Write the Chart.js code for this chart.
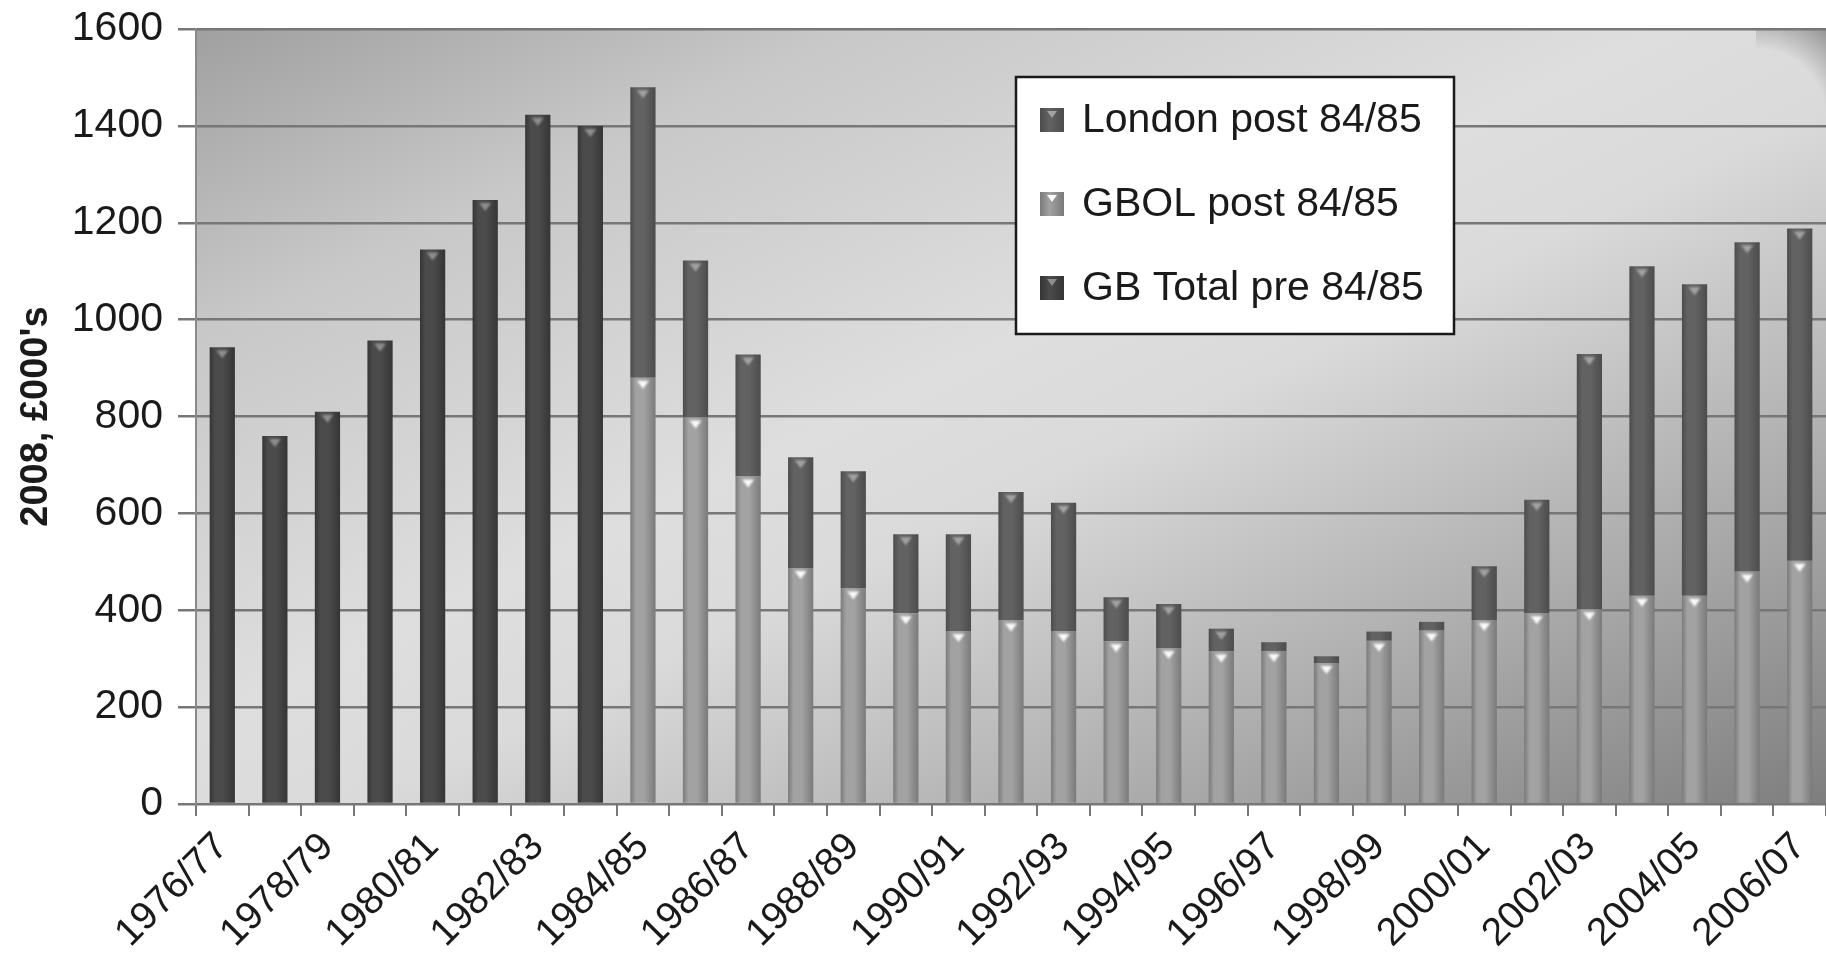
<!DOCTYPE html>
<html>
<head>
<meta charset="utf-8">
<script src="https://cdn.jsdelivr.net/npm/chart.js@4.4.1/dist/chart.umd.min.js"></script>
<style>
  html, body { margin: 0; padding: 0; background: #fff; }
  canvas { display: block; }
</style>
</head>
<body>
<canvas id="chart" width="1826" height="960"></canvas>
<script>
// Financial years on the category axis
const years = [
  '1976/77', '1977/78', '1978/79', '1979/80', '1980/81', '1981/82', '1982/83', '1983/84',
  '1984/85', '1985/86', '1986/87', '1987/88', '1988/89', '1989/90', '1990/91', '1991/92',
  '1992/93', '1993/94', '1994/95', '1995/96', '1996/97', '1997/98', '1998/99', '1999/00',
  '2000/01', '2001/02', '2002/03', '2003/04', '2004/05', '2005/06', '2006/07'
];

// Spending, 2008 prices, £000's
const gbTotalPre = [943, 760, 810, 957, 1145, 1247, 1423, 1400,
  null, null, null, null, null, null, null, null, null, null, null, null, null, null, null,
  null, null, null, null, null, null, null, null];
const gbolPost = [null, null, null, null, null, null, null, null,
  880, 798, 676, 487, 445, 394, 357, 379, 357, 336, 322, 315, 316, 291, 337,
  358, 380, 394, 402, 430, 430, 480, 502];
const londonPost = [null, null, null, null, null, null, null, null,
  600, 324, 252, 229, 242, 163, 200, 265, 265, 91, 91, 47, 18, 14, 19,
  18, 111, 234, 527, 680, 643, 680, 686];

// Value axis ticks
const yTicks = [0, 200, 400, 600, 800, 1000, 1200, 1400, 1600];

const seriesNames = ['GB Total pre 84/85', 'GBOL post 84/85', 'London post 84/85'];

const BAR_FRACTION = 0.48;
const FONT = "'Liberation Sans', Arial, Helvetica, sans-serif";

// Cylinder-like horizontal shading across each bar
function barShade(edge, mid) {
  return (ctx) => {
    const chart = ctx.chart;
    const xs = chart.scales && chart.scales.x;
    if (!chart.chartArea || !xs || ctx.type !== 'data') return mid;
    const cx = xs.getPixelForValue(ctx.dataIndex);
    const half = xs.width / years.length * BAR_FRACTION / 2;
    const g = chart.ctx.createLinearGradient(cx - half, 0, cx + half, 0);
    g.addColorStop(0, edge);
    g.addColorStop(0.22, mid);
    g.addColorStop(0.55, mid);
    g.addColorStop(1, edge);
    return g;
  };
}

const styles = [
  { edge: '#353535', mid: '#4b4b4b', mark: 'rgba(150,150,150,0.9)' },
  { edge: '#7a7a7a', mid: '#a2a2a2', mark: 'rgba(255,255,255,0.95)' },
  { edge: '#4c4c4c', mid: '#626262', mark: 'rgba(170,170,170,0.9)' }
];

// Shaded plot background with a soft darkened top-right corner
const plotBackground = {
  id: 'plotBackground',
  beforeDraw(chart) {
    const { ctx, chartArea: a } = chart;
    const w = a.right - a.left, h = a.bottom - a.top;
    ctx.save();
    ctx.translate(a.left, a.top);
    ctx.scale(w, h);
    const g = ctx.createLinearGradient(0, 0, 1, 1);
    g.addColorStop(0, '#a0a0a0');
    g.addColorStop(0.2, '#c8c8c8');
    g.addColorStop(0.45, '#dedede');
    g.addColorStop(0.55, '#dadada');
    g.addColorStop(0.8, '#a8a8a8');
    g.addColorStop(1, '#7e7e7e');
    ctx.fillStyle = g;
    ctx.fillRect(0, 0, 1, 1);
    ctx.restore();

    // rounded-corner shadow in the top-right corner
    const rw = 70, rh = 90;
    const cx = a.right - rw, cy = a.top + rh;
    ctx.save();
    const r = ctx.createRadialGradient(cx, cy, rw, cx, cy, Math.hypot(rw, rh));
    r.addColorStop(0, 'rgba(110,110,110,0)');
    r.addColorStop(1, 'rgba(110,110,110,0.65)');
    ctx.fillStyle = r;
    ctx.fillRect(cx, a.top, rw, rh);
    ctx.restore();
  }
};

// Small highlight notch at the top of each bar segment
const segmentMarks = {
  id: 'segmentMarks',
  afterDatasetsDraw(chart) {
    const ctx = chart.ctx;
    ctx.save();
    ctx.filter = 'blur(0.8px)';
    chart.data.datasets.forEach((d, di) => {
      const meta = chart.getDatasetMeta(di);
      meta.data.forEach((bar, i) => {
        if (d.data[i] == null) return;
        const top = Math.min(bar.y, bar.base);
        const segH = Math.abs(bar.base - bar.y);
        if (segH < 14) return;
        ctx.fillStyle = styles[di].mark;
        ctx.beginPath();
        ctx.moveTo(bar.x - 6, top + 3);
        ctx.lineTo(bar.x + 6, top + 3);
        ctx.lineTo(bar.x, top + 11);
        ctx.closePath();
        ctx.fill();
      });
    });
    ctx.restore();
  }
};

// Boxed legend inside the plot, last series listed first
const boxLegend = {
  id: 'boxLegend',
  afterDraw(chart, args, o) {
    const ctx = chart.ctx;
    ctx.save();
    ctx.fillStyle = '#ffffff';
    ctx.fillRect(o.x, o.y, o.w, o.h);
    ctx.lineWidth = 2.5;
    ctx.strokeStyle = '#1a1a1a';
    ctx.strokeRect(o.x, o.y, o.w, o.h);
    ctx.font = o.font;
    ctx.textBaseline = 'middle';
    ctx.textAlign = 'left';
    const order = chart.data.datasets.map((d, i) => i).reverse();
    order.forEach((di, row) => {
      const d = chart.data.datasets[di];
      const cy = o.y + o.firstRow + row * o.rowGap;
      const sx = o.x + o.swatchX, sy = cy - o.swatch / 2;
      const g = ctx.createLinearGradient(sx, 0, sx + o.swatch, 0);
      g.addColorStop(0, styles[di].edge);
      g.addColorStop(0.4, styles[di].mid);
      g.addColorStop(1, styles[di].edge);
      ctx.fillStyle = g;
      ctx.fillRect(sx, sy, o.swatch, o.swatch);
      ctx.fillStyle = styles[di].mark;
      ctx.beginPath();
      ctx.moveTo(sx + o.swatch / 2 - 5, sy + 3);
      ctx.lineTo(sx + o.swatch / 2 + 5, sy + 3);
      ctx.lineTo(sx + o.swatch / 2, sy + 10);
      ctx.closePath();
      ctx.fill();
      ctx.fillStyle = '#1a1a1a';
      ctx.fillText(d.label, o.x + o.textX, cy + 1);
    });
    ctx.restore();
  }
};

new Chart(document.getElementById('chart'), {
  type: 'bar',
  data: {
    labels: years,
    datasets: [
      { label: seriesNames[0], data: gbTotalPre, backgroundColor: barShade(styles[0].edge, styles[0].mid) },
      { label: seriesNames[1], data: gbolPost, backgroundColor: barShade(styles[1].edge, styles[1].mid) },
      { label: seriesNames[2], data: londonPost, backgroundColor: barShade(styles[2].edge, styles[2].mid) }
    ]
  },
  options: {
    responsive: false,
    animation: false,
    devicePixelRatio: 1,
    layout: { padding: { top: 29, right: 0, bottom: 0, left: 0 } },
    datasets: {
      bar: { categoryPercentage: 1, barPercentage: BAR_FRACTION, borderWidth: 0, grouped: false }
    },
    plugins: {
      legend: { display: false },
      tooltip: { enabled: false },
      boxLegend: {
        x: 1016, y: 77, w: 438, h: 257,
        firstRow: 43, rowGap: 84, swatchX: 24, swatch: 24, textX: 66,
        font: "41px " + FONT
      }
    },
    scales: {
      x: {
        stacked: true,
        grid: { drawOnChartArea: false, drawTicks: true, tickLength: 12, color: '#777', lineWidth: 2 },
        border: { display: true, color: '#777', width: 2 },
        ticks: {
          autoSkip: false,
          minRotation: 45,
          maxRotation: 45,
          padding: 8,
          color: '#1a1a1a',
          font: { family: FONT, size: 39 },
          callback: (v, i) => (i % 2 === 0 ? years[i] : '')
        },
        afterFit: (s) => { s.height = 156; s.paddingLeft = 0; s.paddingRight = 0; }
      },
      y: {
        stacked: true,
        min: 0,
        max: 1600,
        afterBuildTicks: (s) => { s.ticks = yTicks.map((v) => ({ value: v })); },
        grid: { color: '#777', lineWidth: 2.5, tickLength: 18 },
        border: { display: true, color: '#8a8a8a', width: 2 },
        ticks: {
          padding: 15,
          color: '#1a1a1a',
          font: { family: FONT, size: 41 },
          callback: (v) => String(v)
        },
        title: {
          display: true,
          text: "2008, £000's",
          color: '#1a1a1a',
          font: { family: FONT, size: 38, weight: 'bold' },
          padding: { top: 14, bottom: 0 }
        },
        afterFit: (s) => { s.width = 196; s.paddingTop = 0; s.paddingBottom = 0; }
      }
    }
  },
  plugins: [plotBackground, segmentMarks, boxLegend]
});
</script>
</body>
</html>
